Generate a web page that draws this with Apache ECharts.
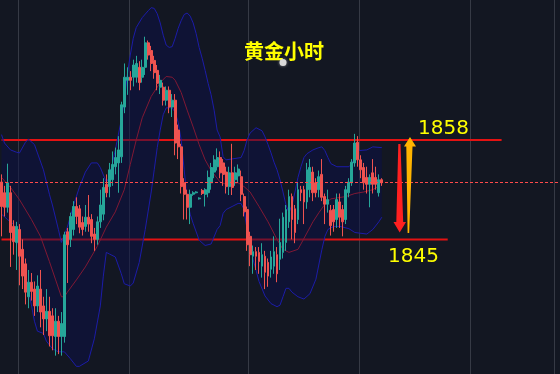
<!DOCTYPE html>
<html>
<head>
<meta charset="utf-8">
<script src="https://cdn.jsdelivr.net/npm/echarts@6/dist/echarts.min.js"></script>
<style>
html,body{margin:0;padding:0;background:#131722;}
#c{width:560px;height:374px;}
</style>
</head>
<body>
<div id="c"></div>
<script>
// ---- data (prices) ----
const title = '黄金小时';
const resistance = 1858;
const support = 1845;
const lastPrice = 1852.5;
const resistanceLabel = '1858';
const supportLabel = '1845';
const categoryCount = 187;
const categories = Array.from({length: categoryCount}, (_, i) => String(i));
const gridCats = [6, 43, 83, 120, 157, 185];
const resistanceSpan = [0, 167];
const supportSpan = [0, 149];

// [open, close, low, high]
const ohlc = [
[1852.5,1849.3,1845.4,1853.5],[1851.1,1849.2,1848.0,1852.0],[1849.2,1852.4,1848.5,1854.9],[1851.1,1845.9,1841.4,1852.0],
[1846.7,1844.7,1843.0,1847.5],[1844.6,1846.7,1841.0,1847.3],[1846.3,1842.8,1839.0,1847.0],[1843.7,1840.2,1838.5,1845.0],
[1841.8,1838.1,1836.5,1842.5],[1837.5,1839.4,1836.0,1841.0],[1839.4,1838.2,1837.0,1840.6],[1838.5,1836.3,1835.0,1839.5],
[1836.3,1838.9,1835.5,1840.3],[1838.5,1835.5,1833.5,1841.0],[1836.3,1834.6,1832.5,1837.5],[1834.6,1835.6,1833.0,1838.5],
[1835.6,1832.4,1831.0,1837.5],[1835.0,1832.4,1830.5,1836.0],[1832.3,1834.3,1829.8,1836.0],[1834.3,1832.3,1830.0,1835.0],
[1832.3,1834.0,1829.8,1835.5],[1832.3,1845.6,1831.5,1846.0],[1846.0,1844.3,1839.3,1846.5],[1845.0,1848.0,1844.0,1848.5],
[1846.3,1849.3,1845.5,1850.0],[1849.3,1848.0,1847.0,1850.5],[1849.0,1846.6,1845.8,1849.5],[1847.2,1846.3,1845.5,1848.0],
[1846.7,1847.9,1846.0,1849.5],[1847.9,1847.0,1846.0,1850.8],[1847.6,1845.4,1844.5,1848.3],[1845.7,1845.0,1843.5,1846.5],
[1845.0,1847.3,1844.3,1848.0],[1847.3,1849.5,1846.5,1851.5],[1848.3,1851.8,1847.5,1853.0],[1852.2,1851.1,1850.5,1853.5],
[1851.9,1854.1,1850.5,1855.0],[1852.8,1854.8,1852.0,1856.5],[1854.5,1855.7,1853.5,1857.0],[1855.0,1856.7,1851.1,1858.5],
[1855.8,1862.6,1855.0,1863.0],[1862.3,1866.2,1861.5,1868.0],[1865.8,1866.2,1863.9,1867.5],[1866.2,1865.8,1864.5,1867.0],
[1866.2,1867.8,1865.0,1868.5],[1866.2,1868.0,1865.5,1869.0],[1867.5,1865.5,1864.5,1868.3],[1866.2,1867.5,1865.5,1868.5],
[1867.5,1870.7,1866.5,1871.5],[1870.7,1869.1,1868.5,1871.0],[1869.7,1868.0,1867.0,1870.3],[1868.4,1866.8,1866.0,1869.0],
[1867.1,1865.4,1864.5,1867.8],[1864.9,1865.8,1864.0,1866.5],[1864.9,1863.2,1862.5,1865.5],[1863.2,1864.5,1862.5,1865.0],
[1864.5,1862.3,1861.5,1865.0],[1862.3,1863.2,1861.0,1864.0],[1863.2,1857.6,1856.0,1864.0],[1859.3,1857.1,1855.5,1860.0],
[1857.1,1851.9,1851.0,1857.5],[1852.4,1850.9,1847.6,1853.0],[1850.9,1849.2,1847.6,1851.5],[1849.2,1850.9,1847.0,1851.5],
[1850.9,1851.1,1850.7,1851.3],[1851.1,1851.2,1851.0,1851.3],[1850.3,1850.4,1850.2,1850.5],[1851.4,1851.0,1850.8,1851.6],
[1850.9,1851.5,1849.3,1851.7],[1851.1,1853.1,1850.5,1854.0],[1852.4,1854.4,1851.5,1855.0],[1853.8,1855.4,1853.0,1856.0],
[1854.5,1855.7,1854.0,1856.9],[1855.7,1853.7,1853.0,1856.5],[1855.0,1853.5,1852.0,1855.5],[1853.8,1851.9,1851.0,1854.5],
[1851.9,1853.7,1850.8,1854.5],[1853.7,1851.8,1850.8,1857.5],[1852.8,1853.7,1852.0,1854.5],[1853.3,1854.2,1852.5,1854.8],
[1853.2,1850.9,1850.0,1854.0],[1850.6,1848.6,1848.0,1851.0],[1848.9,1844.3,1843.5,1849.3],[1845.4,1843.0,1841.5,1846.0],
[1842.8,1843.4,1840.5,1844.2],[1843.4,1842.8,1841.0,1844.0],[1843.3,1842.1,1840.5,1844.0],[1841.5,1843.0,1840.0,1844.5],
[1842.8,1840.7,1838.5,1843.5],[1842.0,1840.2,1838.8,1842.5],[1841.1,1842.7,1840.0,1843.5],[1841.5,1843.4,1840.5,1845.4],
[1843.0,1840.5,1839.4,1844.0],[1842.4,1844.6,1841.0,1847.7],[1843.3,1847.9,1842.5,1848.5],[1844.6,1848.9,1843.5,1849.5],
[1847.3,1850.6,1846.5,1851.5],[1850.6,1847.6,1845.0,1851.0],[1849.0,1845.9,1844.5,1849.5],[1847.6,1851.5,1847.0,1852.5],
[1851.5,1851.1,1850.0,1852.0],[1851.5,1849.9,1847.0,1852.0],[1849.9,1854.1,1849.0,1855.0],[1851.5,1854.4,1850.5,1855.5],
[1853.8,1851.1,1850.0,1854.5],[1852.4,1851.1,1850.5,1853.0],[1851.5,1853.2,1850.5,1854.0],[1853.5,1850.5,1850.0,1855.5],
[1850.6,1849.6,1847.0,1851.0],[1849.6,1850.2,1848.5,1851.5],[1848.8,1846.8,1845.5,1849.5],[1848.9,1847.3,1846.0,1849.5],
[1847.6,1850.2,1846.5,1851.0],[1849.9,1847.9,1846.5,1851.0],[1848.9,1847.3,1845.4,1849.5],[1847.6,1851.5,1847.0,1852.0],
[1851.1,1852.5,1850.5,1853.0],[1852.4,1855.1,1852.0,1855.5],[1855.0,1857.6,1854.5,1858.8],[1857.7,1855.4,1854.5,1858.5],
[1855.4,1854.1,1853.0,1856.0],[1854.4,1852.4,1851.5,1855.0],[1853.1,1852.2,1851.0,1854.5],[1852.2,1853.1,1849.2,1853.5],
[1853.7,1852.2,1851.0,1855.5],[1853.1,1852.2,1851.5,1854.5],[1851.1,1852.8,1850.6,1853.5],[1852.8,1852.4,1852.0,1853.0]
];

// Bollinger upper band (category index, price)
const upperIdx = [0,1,3,5,6,8,9,11,12,14,15,16,17,19,20,22,24,26,28,30,32,33,35,36,38,40,41,42,43,44,45,47,49,50,51,52,53,54,55,56,57,58,59,60,61,62,63,64,65,66,67,68,69,70,71,72,73,74,75,80,81,82,83,85,87,88,89,90,91,92,93,94,95,96,97,98,99,100,101,102,104,106,107,108,109,110,112,116,117,118,119,122,124,127];
const upperVal = [1858.7,1857.6,1856.7,1856.4,1856.3,1857.7,1858.1,1857.4,1856.3,1854.1,1852.5,1850.9,1849.5,1846.3,1844.6,1846.6,1849.4,1851.8,1853.8,1855.0,1855.0,1854.4,1852.5,1853.1,1856.7,1860.6,1863.2,1866.5,1869.1,1871.3,1872.7,1874.0,1874.9,1875.3,1875.2,1874.5,1873.3,1871.7,1870.4,1870.1,1870.2,1871.3,1872.6,1873.6,1874.4,1874.6,1874.2,1873.3,1871.9,1870.1,1868.7,1867.1,1865.4,1863.9,1861.9,1859.3,1858.4,1855.8,1855.4,1855.7,1856.6,1858.0,1858.9,1859.6,1859.2,1858.4,1857.4,1856.3,1855.1,1854.1,1852.8,1851.2,1849.5,1848.5,1849.5,1851.2,1853.1,1854.5,1855.7,1856.2,1856.7,1857.0,1857.1,1856.6,1855.7,1854.9,1854.5,1854.5,1854.9,1855.8,1856.6,1856.7,1857.1,1857.0];

// Bollinger lower band
const lowerIdx = [0,2,4,6,9,11,12,14,15,17,19,21,23,25,26,29,31,33,34,35,36,38,40,41,43,44,46,48,50,51,52,53,54,55,57,58,59,60,61,62,63,64,66,68,70,72,73,74,75,77,79,80,81,82,84,86,88,90,92,93,94,95,96,97,99,101,103,105,107,108,109,111,113,116,118,122,124,126,127];
const lowerVal = [1848.3,1847.6,1847.0,1843.7,1838.5,1834.3,1833.0,1832.7,1831.7,1830.7,1830.3,1830.3,1829.4,1828.4,1828.4,1829.1,1832.0,1836.3,1840.2,1843.3,1843.1,1842.7,1840.5,1839.2,1838.9,1839.3,1842.0,1846.3,1851.2,1854.1,1857.0,1859.3,1861.3,1862.2,1862.2,1861.6,1860.3,1858.0,1854.1,1850.2,1848.3,1847.1,1844.9,1844.2,1844.4,1846.3,1846.8,1848.4,1848.9,1849.3,1849.7,1849.7,1848.9,1846.3,1842.4,1839.5,1837.6,1836.6,1836.2,1836.4,1837.5,1838.6,1838.6,1838.1,1837.5,1837.2,1837.9,1839.8,1843.7,1845.4,1846.3,1846.7,1846.7,1846.4,1845.9,1845.7,1846.3,1847.3,1847.9];

// Bollinger middle band
const midIdx = [0,3,6,10,13,16,18,20,21,22,25,28,32,35,38,41,43,45,47,50,53,55,57,58,60,62,64,66,68,70,73,75,79,81,83,86,89,92,94,96,99,100,104,106,108,110,115,118,121,124,126];
const midVal = [1853.1,1851.8,1850.2,1847.6,1845.4,1842.1,1839.8,1837.5,1837.5,1838.1,1839.7,1841.4,1844.1,1846.6,1848.6,1851.5,1854.8,1858.0,1860.9,1863.7,1865.5,1866.3,1866.2,1865.8,1864.2,1861.9,1859.7,1857.4,1855.4,1854.0,1852.5,1852.2,1852.4,1851.9,1851.2,1849.3,1847.3,1845.0,1843.7,1843.3,1843.7,1844.4,1847.3,1848.5,1849.6,1850.3,1850.6,1851.0,1851.2,1851.5,1852.0];

const pairs = (ix, vs) => ix.map((x, k) => [x, vs[k]]);

const chart = echarts.init(document.getElementById('c'), null, {renderer: 'canvas'});
chart.setOption({
  backgroundColor: '#131722',
  animation: false,
  title: {
    text: title, left: 279, top: 36, textAlign: 'center',
    textStyle: {color: '#ffff00', fontSize: 20, fontWeight: 'bold', fontFamily: '"Noto Sans CJK SC"'}
  },
  grid: {left: 0, right: 0, top: 0, bottom: 0},
  xAxis: {
    type: 'category', data: categories, boundaryGap: true,
    axisLine: {show: false}, axisTick: {show: false}, axisLabel: {show: false},
    splitLine: {show: true, interval: (i) => gridCats.includes(i), lineStyle: {color: '#363a45', width: 1}}
  },
  yAxis: {
    type: 'value', min: 1827.4, max: 1876.3, scale: true,
    axisLine: {show: false}, axisTick: {show: false}, axisLabel: {show: false}, splitLine: {show: false}
  },
  series: [
    {
      type: 'line', z: 1, silent: true, symbol: 'none',
      data: resistanceSpan.map(i => [i, resistance]),
      lineStyle: {color: '#e41212', width: 2}
    },
    {
      type: 'line', z: 1, silent: true, symbol: 'none',
      data: supportSpan.map(i => [i, support]),
      lineStyle: {color: '#e41212', width: 2}
    },
    {
      type: 'custom', z: 2, silent: true, data: [[0, lastPrice]],
      renderItem: (params, api) => {
        const pts = upperIdx.map((x, k) => api.coord([x, upperVal[k]]));
        for (let k = lowerIdx.length - 1; k >= 0; k--) pts.push(api.coord([lowerIdx[k], lowerVal[k]]));
        return {type: 'polygon', shape: {points: pts}, style: {fill: 'rgba(12,16,72,0.5)'}};
      }
    },
    {type: 'line', z: 3, data: pairs(upperIdx, upperVal), symbol: 'none', lineStyle: {color: '#1c1ca8', width: 1}},
    {type: 'line', z: 3, data: pairs(lowerIdx, lowerVal), symbol: 'none', lineStyle: {color: '#1c1ca8', width: 1}},
    {type: 'line', z: 3, data: pairs(midIdx, midVal), symbol: 'none', lineStyle: {color: '#801834', width: 1}},
    {
      type: 'candlestick', z: 4, data: ohlc, barWidth: 2.4,
      itemStyle: {color: '#26a69a', color0: '#ef5350', borderColor: '#26a69a', borderColor0: '#ef5350', borderWidth: 1},
      markLine: {
        z: 6, symbol: 'none', silent: true, label: {show: false},
        lineStyle: {color: '#ff4a4a', width: 1, type: [3, 2]},
        data: [{yAxis: lastPrice}]
      }
    }
  ]
});

const yR = chart.convertToPixel({yAxisIndex: 0}, resistance);
const yS = chart.convertToPixel({yAxisIndex: 0}, support);
chart.setOption({
  graphic: [
    {
      type: 'polygon', z: 100,
      shape: {points: [[410, yR - 3], [416, yR + 6.5], [412.5, yR + 6.5], [409.2, yS - 6.5], [407.6, yS - 6.5], [406.3, yR + 6.5], [404, yR + 6.5]]},
      style: {fill: '#ffb400'}
    },
    {
      type: 'polygon', z: 100,
      shape: {points: [[398.3, yR + 4], [400.5, yR + 4], [403.2, yS - 17.5], [406, yS - 17.5], [399.7, yS - 6.8], [393.5, yS - 17.5], [396.3, yS - 17.5]]},
      style: {fill: '#ff2020'}
    },
    {
      type: 'text', z: 100,
      style: {text: resistanceLabel, x: 418, y: yR - 11, verticalAlign: 'middle', font: '20px "DejaVu Sans"', fill: '#ffff00'}
    },
    {
      type: 'text', z: 100,
      style: {text: supportLabel, x: 388, y: yS + 17, verticalAlign: 'middle', font: '20px "DejaVu Sans"', fill: '#ffff00'}
    },
    {
      type: 'circle', z: 100,
      shape: {cx: 283, cy: 62.5, r: 3.5},
      style: {fill: '#d9d9d9', shadowBlur: 3, shadowColor: 'rgba(255,255,255,0.5)'}
    }
  ]
});
</script>
</body>
</html>
